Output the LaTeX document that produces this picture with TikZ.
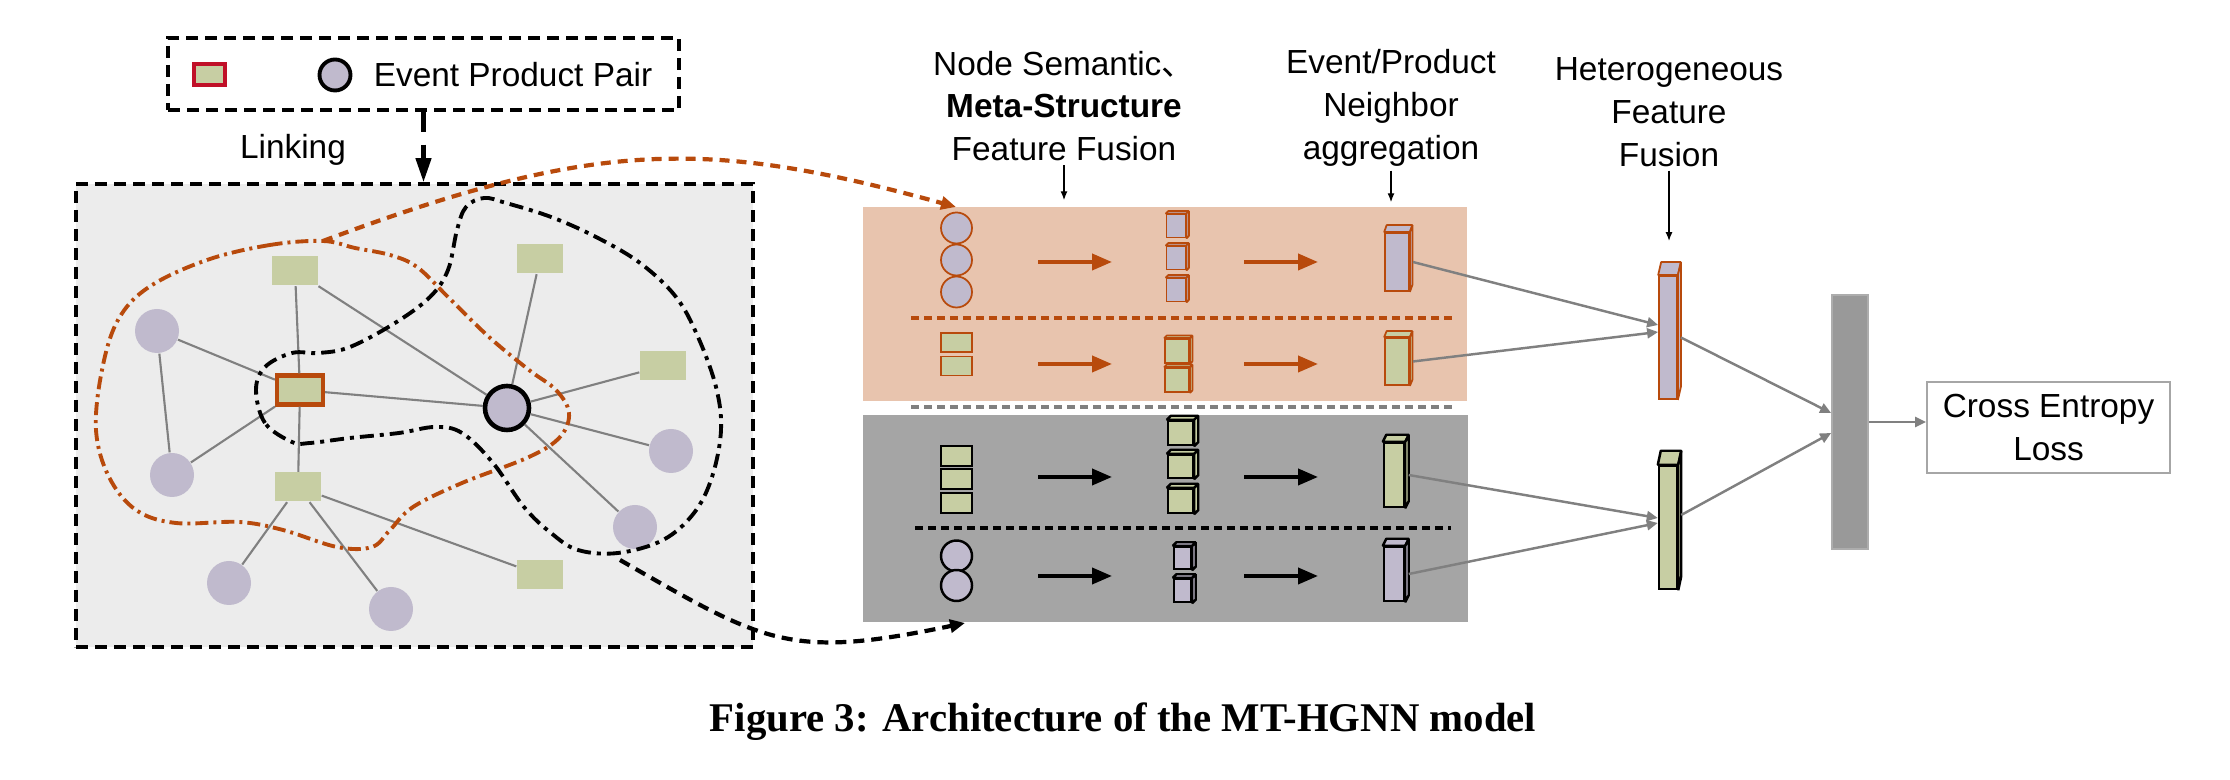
\documentclass[tikz,border=0pt]{standalone}
\usepackage{fontspec}
\setmainfont{Liberation Sans}
\newfontfamily\capfont{Liberation Serif}
\newfontfamily\cjk{Noto Sans CJK SC}
\usetikzlibrary{arrows.meta,positioning}

\definecolor{lav}{RGB}{192,186,205}
\definecolor{grn}{RGB}{199,206,163}
\definecolor{orng}{RGB}{184,74,12}
\definecolor{peach}{RGB}{232,196,174}
\definecolor{panelg}{RGB}{236,236,236}
\definecolor{bandg}{RGB}{165,165,165}
\definecolor{barg}{RGB}{153,153,153}
\definecolor{edgeg}{RGB}{128,128,128}
\definecolor{legred}{RGB}{192,16,40}

\tikzset{
	prod/.style={rectangle, fill=grn, minimum width=4.6mm, minimum height=2.9mm, inner sep=0},
	evt/.style={circle, fill=lav, minimum size=4.4mm, inner sep=0},
	glink/.style={draw=edgeg, line width=0.6pt},
	dashbox/.style={draw=black, line width=1pt, dash pattern=on 1.2mm off 0.7mm, inner sep=0},
	lavo/.style={fill=lav, draw=orng, line width=0.5pt, inner sep=0},
	grno/.style={fill=grn, draw=orng, line width=0.5pt, inner sep=0},
	lavk/.style={fill=lav, draw=black, line width=0.7pt, inner sep=0},
	grnk/.style={fill=grn, draw=black, line width=0.7pt, inner sep=0},
	flow/.style={line width=1.1pt, -{Triangle[length=2mm,width=1.6mm]}},
	conn/.style={draw=edgeg, line width=0.7pt, -{Triangle[length=1.1mm,width=1mm]}},
	tinyarrow/.style={line width=0.4pt, -{Latex[length=0.9mm,width=0.7mm]}},
	lbl/.style={align=center, inner sep=1pt}
}

% block with a top and a side face
\newcommand{\featblock}[8]{%
	\node[#8, minimum width=#4mm, minimum height=#5mm] (#1) at (#2,#3) {};
	\filldraw[#8, line join=bevel] (#1.north west) -- ++(#6,#7) -- ([shift={(#6,#7)}]#1.north east) -- (#1.north east) -- cycle;
	\filldraw[#8, line join=bevel] (#1.north east) -- ++(#6,#7) -- ([shift={(#6,#7)}]#1.south east) -- (#1.south east) -- cycle;
}

\begin{document}
\begin{tikzpicture}[x=0.1mm, y=-0.1mm, font=\fontsize{9.5}{12.2}\selectfont]
\useasboundingbox (0,0) rectangle (2230,780);

% legend
\node[dashbox, minimum width=51.1mm, minimum height=7.2mm] (legend) at (423.5,74) {};
\node[prod, draw=legred, line width=1pt, minimum width=3.1mm, minimum height=2.1mm] (legprod) at (209.5,74.5) {};
\node[evt, draw=black, line width=1.1pt, minimum size=3.1mm] (legevt) at (335,75) {};
\node (legtext) at (513,75) {Event Product Pair};

% graph panel
\node[dashbox, fill=panelg, minimum width=67.7mm, minimum height=46.3mm] (panel) at (414.5,415.5) {};
\draw[line width=1.2pt, dash pattern=on 2mm off 1.3mm, -{Triangle[length=2.4mm,width=1.5mm]}] (legend.south) -- (legend.south |- panel.north);
\node (linking) at (293,150) {Linking};

\node[prod] (s1) at (295,271) {};
\node[prod] (s2) at (540,259) {};
\node[prod] (s3) at (663,366) {};
\node[prod] (s4) at (298,487) {};
\node[prod] (s5) at (540,575) {};
\node[prod, draw=orng, line width=1.2pt] (pc) at (300,390) {};
\node[evt] (e1) at (157,331) {};
\node[evt] (e2) at (172,475) {};
\node[evt] (e3) at (671,451) {};
\node[evt] (e4) at (635,527) {};
\node[evt] (e5) at (229,583) {};
\node[evt] (e6) at (391,609) {};
\node[evt, draw=black, line width=1.3pt] (ec) at (507,408) {};

\foreach \a/\b in {e1/e2, e1/pc, e2/pc, s1/pc, s1/ec, pc/ec, pc/s4, s4/e5, s4/e6, s4/s5, s2/ec, ec/s3, ec/e3, ec/e4}
	\draw[glink] (\a) -- (\b);

% meta-structure loops
\draw[orng, line width=1.1pt, dash pattern=on 1.3mm off 0.5mm on 0.3mm off 0.5mm] plot[smooth cycle, tension=0.6] coordinates {
	(323,241) (270,245) (207,260) (149,287) (118,320) (102,370) (96,430) (109,477) (136,510)
	(176,523) (239,522) (283,530) (337,547) (372,547) (390,530) (413,507) (462,483) (529,457)
	(560,437) (569,413) (556,390) (529,370) (489,337) (448,297) (417,267) (390,255) (355,248)};
\draw[black, line width=1.1pt, dash pattern=on 1.4mm off 0.6mm on 0.4mm off 0.6mm] plot[smooth cycle, tension=0.6] coordinates {
	(292,442) (265,423) (256,390) (265,367) (292,353) (319,353) (350,347) (395,323) (430,297)
	(448,270) (457,230) (466,207) (484,198) (506,203) (551,217) (596,237) (640,263) (676,297)
	(698,337) (716,387) (721,430) (712,477) (694,513) (663,540) (618,553) (578,550) (551,533)
	(524,507) (493,463) (462,433) (435,427) (399,433) (350,438) (310,443)};
\coordinate (otop) at (323,241);
\coordinate (bbot) at (620,560);

% feature bands
\node[fill=peach, minimum width=60.4mm, minimum height=19.4mm, inner sep=0] (pband) at (1165,304) {};
\node[fill=bandg, minimum width=60.5mm, minimum height=20.7mm, inner sep=0] (gband) at (1165.5,518.5) {};
\draw[orng, line width=1pt, dash pattern=on 0.8mm off 0.5mm] (911,318) -- (1453,318);
\draw[edgeg, line width=1pt, dash pattern=on 0.8mm off 0.5mm] (911,407) -- (1453,407);
\draw[black, line width=1pt, dash pattern=on 0.8mm off 0.5mm] (915,528) -- (1451,528);
\coordinate (ptip) at (956,207);
\coordinate (gtip) at (965,623);

\draw[orng, line width=1.2pt, dash pattern=on 1mm off 0.7mm, -{Triangle[length=1.5mm,width=1.3mm]}] (otop) .. controls (598,138) and (709,139) .. (ptip);
\draw[black, line width=1.2pt, dash pattern=on 1.1mm off 0.7mm, -{Triangle[length=1.5mm,width=1.3mm]}] (bbot) .. controls (765,643) and (788,660) .. (gtip);

% row 1
\foreach \y [count=\i] in {228,260,292}
	\node[circle, lavo, minimum size=3.1mm] (a\i) at (956.5,\y) {};
\featblock{m11}{1176}{226}{1.9}{2.3}{2.5}{-2.5}{lavo}
\featblock{m12}{1176}{258}{1.9}{2.3}{2.5}{-2.5}{lavo}
\featblock{m13}{1176}{290}{1.9}{2.3}{2.5}{-2.5}{lavo}
\featblock{b1}{1397}{262}{2.4}{5.8}{2.5}{-7}{lavo}
% row 2
\node[rectangle, grno, minimum width=3.1mm, minimum height=1.9mm] (g1) at (956.5,342.5) {};
\node[rectangle, grno, minimum width=3.1mm, minimum height=1.9mm] (g2) at (956.5,366) {};
\featblock{m21}{1177}{351}{2.4}{2.4}{2.5}{-2.5}{grno}
\featblock{m22}{1177}{380}{2.4}{2.4}{2.5}{-2.5}{grno}
\featblock{b2}{1397}{361.5}{2.4}{4.7}{2.5}{-6}{grno}
% row 3
\foreach \y [count=\i] in {456,479,503}
	\node[rectangle, grnk, minimum width=3.1mm, minimum height=2mm] (h\i) at (956.5,\y) {};
\featblock{m31}{1180.5}{433}{2.5}{2.4}{4}{-4}{grnk}
\featblock{m32}{1180.5}{466.5}{2.5}{2.3}{4}{-4}{grnk}
\featblock{m33}{1180.5}{501}{2.5}{2.4}{4}{-4}{grnk}
\featblock{b3}{1394}{475}{2.0}{6.4}{3.5}{-7}{grnk}
% row 4
\node[circle, lavk, minimum size=3.1mm] (k1) at (956.5,556) {};
\node[circle, lavk, minimum size=3.1mm] (k2) at (956.5,585.5) {};
\featblock{m41}{1182.5}{558}{1.7}{2.2}{3.5}{-3.5}{lavk}
\featblock{m42}{1182.5}{590.5}{1.7}{2.3}{3.5}{-3.5}{lavk}
\featblock{b4}{1394}{574}{2.0}{5.4}{3.5}{-7}{lavk}

\foreach \y/\c in {262/orng, 364/orng, 477/black, 576/black} % arrows between stages
	{
	\draw[flow, \c] (1038,\y) -- (1112,\y);
	\draw[flow, \c] (1244,\y) -- (1318,\y);
	}

% fusion
\featblock{fu1}{1668}{337.5}{1.8}{12.3}{3}{-13}{lavo}
\featblock{fu2}{1668}{527.5}{1.8}{12.3}{3}{-14}{grnk}
\node[fill=barg, draw=barg!80!white, line width=0.5pt, minimum width=3.6mm, minimum height=25.4mm, inner sep=0] (gbar) at (1850,422) {};
\node[draw=edgeg!70, line width=0.5pt, minimum width=24.3mm, minimum height=9.1mm, align=center, inner sep=0] (loss) at (2048.5,427.5) {Cross Entropy\\Loss};

\draw[conn] ([xshift=0.3mm]b1.east) -- ([yshift=1.25mm]fu1.west);
\draw[conn] ([xshift=0.3mm]b2.east) -- ([yshift=0.55mm]fu1.west);
\draw[conn] ([xshift=0.35mm]b3.east) -- ([yshift=0.95mm]fu2.west);
\draw[conn] ([xshift=0.35mm]b4.east) -- ([yshift=0.45mm]fu2.west);
\draw[conn] ([xshift=0.3mm]fu1.east) -- ([yshift=0.9mm]gbar.west);
\draw[conn] ([xshift=0.3mm, yshift=1.25mm]fu2.east) -- ([yshift=-1.1mm]gbar.west);
\draw[conn] (gbar.east) -- (gbar.east -| loss.west);

% stage labels
\node[lbl] (lsem) at (1064,106) {Node Semantic{\cjk 、}\\\textbf{Meta-Structure}\\Feature Fusion};
\node[lbl] (lagg) at (1391,108) {Event/Product\\Neighbor\\aggregation};
\node[lbl] (lhet) at (1669,112) {Heterogeneous\\Feature\\Fusion};
\draw[tinyarrow, shorten >=0.6mm] (lsem.south) -- (lsem.south |- pband.north);
\draw[tinyarrow, shorten >=0.4mm] (lagg.south) -- (lagg.south |- pband.north);
\draw[tinyarrow, shorten >=3.4mm] (lhet.south) -- (lhet.south |- fu1.north);

\node[font=\capfont\bfseries\fontsize{11.6}{13}\selectfont] (caption) at (1123,722) {Figure 3: Architecture of the MT-HGNN model};
\end{tikzpicture}
\end{document}
